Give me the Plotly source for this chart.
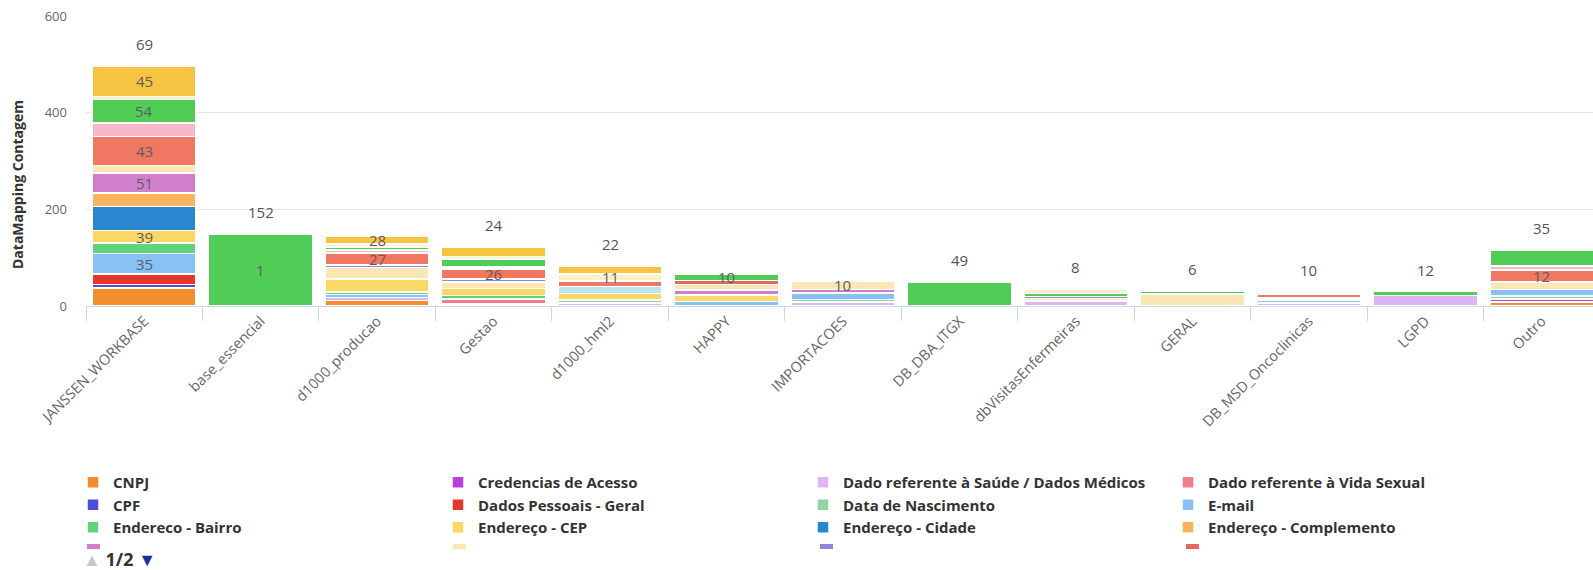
import plotly.graph_objects as go

# ---------------- data ----------------
categories = ["JANSSEN_WORKBASE", "base_essencial", "d1000_producao", "Gestao", "d1000_hml2",
              "HAPPY", "IMPORTACOES", "DB_DBA_ITGX", "dbVisitasEnfermeiras", "GERAL",
              "DB_MSD_Oncoclinicas", "LGPD", "Outro"]

# stacked bottom -> top
cnpj           = [37, 0, 11, 4, 0, 0, 0, 0, 0, 0, 0, 0, 8]
cpf            = [8, 0, 0, 0, 0, 0, 0, 0, 0, 0, 0, 0, 0]
credencias     = [0, 0, 0, 0, 0, 0, 0, 0, 0, 0, 0, 0, 6]
dado_saude     = [0, 0, 7, 0, 6, 0, 8, 0, 10, 0, 6, 22, 0]
dado_vida      = [0, 0, 0, 10, 0, 0, 0, 0, 0, 0, 0, 0, 0]
dados_pessoais = [21, 0, 0, 0, 0, 0, 0, 0, 0, 0, 0, 0, 0]
data_nasc      = [0, 0, 0, 0, 6, 0, 5, 0, 0, 0, 0, 0, 7]
email          = [43, 0, 6, 0, 0, 9, 14, 0, 0, 0, 6, 0, 13]
bairro         = [21, 0, 5, 8, 0, 0, 0, 0, 0, 0, 0, 0, 0]
cep            = [26, 0, 27, 14, 14, 14, 0, 0, 0, 0, 0, 0, 0]
cidade         = [50, 0, 0, 0, 0, 0, 0, 0, 0, 0, 0, 0, 0]
complemento    = [28, 0, 0, 0, 0, 0, 0, 0, 0, 0, 0, 0, 0]
estado         = [41, 0, 0, 0, 0, 10, 7, 0, 0, 0, 0, 0, 0]
logradouro     = [16, 0, 24, 14, 0, 12, 18, 0, 6, 25, 0, 0, 16]
numero         = [0, 0, 5, 6, 0, 0, 0, 0, 4, 0, 5, 0, 0]
pais           = [0, 0, 0, 0, 0, 8, 0, 0, 0, 0, 0, 0, 0]
nacionalidade  = [0, 0, 0, 0, 14, 0, 0, 0, 0, 0, 0, 0, 0]
nome           = [60, 0, 25, 21, 12, 0, 0, 0, 0, 0, 8, 0, 24]
rg             = [28, 0, 6, 4, 0, 0, 0, 0, 0, 0, 0, 0, 9]
telefone       = [48, 148, 6, 16, 0, 13, 0, 49, 6, 6, 0, 8, 32]
sexo           = [6, 0, 6, 5, 14, 0, 0, 0, 9, 0, 0, 0, 0]
outros         = [64, 0, 16, 20, 16, 0, 0, 0, 0, 0, 4, 0, 0]

series_names = ["CNPJ", "CPF", "Credencias de Acesso", "Dado referente à Saúde / Dados Médicos",
                "Dado referente à Vida Sexual", "Dados Pessoais - Geral", "Data de Nascimento",
                "E-mail", "Endereco - Bairro", "Endereço - CEP", "Endereço - Cidade",
                "Endereço - Complemento", "Endereço - Estado", "Endereço - Logradouro",
                "Endereço - Número", "Endereço - País", "Nacionalidade", "Nome", "RG",
                "Telefone", "Sexo", "Outros"]
series_values = [cnpj, cpf, credencias, dado_saude, dado_vida, dados_pessoais, data_nasc, email,
                 bairro, cep, cidade, complemento, estado, logradouro, numero, pais,
                 nacionalidade, nome, rg, telefone, sexo, outros]
series_colors = ["#f28f2c", "#4a4fd6", "#b83fe0", "#dcb6f0", "#ef7f86", "#e6352b", "#93d5a0",
                 "#88c1f3", "#5ed47c", "#fbd765", "#2a86ce", "#f7b45c", "#d07fca", "#fbe7b6",
                 "#8c88d8", "#e26a62", "#bde3ee", "#f07761", "#f6b7c8", "#4fcd57", "#fbf0c6",
                 "#f6c343"]

# legend page 1 order (row by row, 4 columns)
legend_page1 = ["CNPJ", "Credencias de Acesso", "Dado referente à Saúde / Dados Médicos",
                "Dado referente à Vida Sexual",
                "CPF", "Dados Pessoais - Geral", "Data de Nascimento", "E-mail",
                "Endereco - Bairro", "Endereço - CEP", "Endereço - Cidade", "Endereço - Complemento"]
legend_partial_row = ["Endereço - Estado", "Endereço - Logradouro", "Endereço - Número", "Endereço - País"]

y_title = "DataMapping Contagem"
top_labels = ["69", "152", "", "24", "22", "", "", "49", "8", "6", "10", "12", "35"]
inner_labels = [  # (category, series, text)
    ("JANSSEN_WORKBASE", "Outros", "45"),
    ("JANSSEN_WORKBASE", "Telefone", "54"),
    ("JANSSEN_WORKBASE", "Nome", "43"),
    ("JANSSEN_WORKBASE", "Endereço - Estado", "51"),
    ("JANSSEN_WORKBASE", "Endereço - CEP", "39"),
    ("JANSSEN_WORKBASE", "E-mail", "35"),
    ("base_essencial", "Telefone", "1"),
    ("d1000_producao", "Outros", "28"),
    ("d1000_producao", "Nome", "27"),
    ("Gestao", "Nome", "26"),
    ("d1000_hml2", "Sexo", "11"),
    ("HAPPY", "Telefone", "10"),
    ("IMPORTACOES", "Endereço - Logradouro", "10"),
    ("Outro", "Nome", "12"),
]

# ---------------- figure ----------------
fig = go.Figure()
for name, vals, col in zip(series_names, series_values, series_colors):
    show = name in legend_page1
    fig.add_trace(go.Bar(
        x=categories, y=vals, name=name,
        marker=dict(color=col, line=dict(color="white", width=1.5)),
        showlegend=show,
        legendrank=(legend_page1.index(name) + 1) if show else 1000,
    ))

totals = [sum(s[i] for s in series_values) for i in range(len(categories))]
annotations = []
for cat, tot, lab in zip(categories, totals, top_labels):
    if lab:
        annotations.append(dict(x=cat, y=tot, xref="x", yref="y", text=lab, showarrow=False,
                                yanchor="bottom", yshift=10,
                                font=dict(family="Open Sans", size=15, color="#555555")))
for cat, ser, lab in inner_labels:
    ci = categories.index(cat)
    si = series_names.index(ser)
    base = sum(series_values[k][ci] for k in range(si))
    annotations.append(dict(x=cat, y=base + series_values[si][ci] / 2, xref="x", yref="y",
                            text=lab, showarrow=False, yanchor="middle",
                            font=dict(family="Open Sans", size=15, color="#5e5e5e")))

# y-axis title (placed slightly below the plot centre, as in the original)
annotations.append(dict(
    x=(18 - 86) / 1507, y=(306 - 185) / 290, xref="paper", yref="paper",
    xanchor="center", yanchor="middle", showarrow=False, textangle=-90,
    text="<b>" + y_title + "</b>",
    font=dict(family="Open Sans", size=14, color="#333333")))

# legend pager
annotations.append(dict(
    x=(81 - 86) / 1507, y=(306 - 559) / 290, xref="paper", yref="paper",
    xanchor="left", yanchor="middle", showarrow=False,
    text='<span style="color:#c8c8c8">▲</span> <b>1/2</b> <span style="color:#1a2f9a">▼</span>',
    font=dict(family="Open Sans", size=18, color="#333333")))

# partially visible 4th legend row (clipped by the paged legend box)
shapes = []
col_px = [87, 453, 820, 1186]
for px, nm in zip(col_px, legend_partial_row):
    colr = series_colors[series_names.index(nm)]
    shapes.append(dict(type="rect", xref="paper", yref="paper",
                       x0=(px - 86) / 1507, x1=(px + 13 - 86) / 1507,
                       y0=(306 - 549) / 290, y1=(306 - 544) / 290,
                       fillcolor=colr, line=dict(width=0)))

fig.update_layout(
    width=1593, height=570,
    margin=dict(l=86, r=0, t=16, b=264),
    barmode="stack", bargap=0.107,
    plot_bgcolor="white", paper_bgcolor="white",
    font=dict(family="Open Sans", color="#666666"),
    annotations=annotations, shapes=shapes,
    legend=dict(orientation="h", x=(73 - 86) / 1507, xanchor="left",
                y=(306 - 466) / 290, yanchor="top",
                entrywidth=320, entrywidthmode="pixels", traceorder="normal",
                font=dict(family="Open Sans", size=15, color="#333333", weight="bold"),
                bgcolor="rgba(0,0,0,0)"),
    xaxis=dict(range=[-0.5, 12.44], tickangle=-45, ticks="outside", tickson="boundaries",
               ticklen=14, tickcolor="#ccd6eb", showline=True, linecolor="#ccd6eb",
               showgrid=False, tickfont=dict(family="Open Sans", size=14.5, color="#666666")),
    yaxis=dict(range=[0, 600], tickvals=[0, 200, 400, 600], showgrid=True,
               gridcolor="#e6e6e6", zeroline=False, ticks="", ticklabelstandoff=18,
               tickfont=dict(family="Open Sans", size=13, color="#666666")),
)

fig.write_html("out.html")
